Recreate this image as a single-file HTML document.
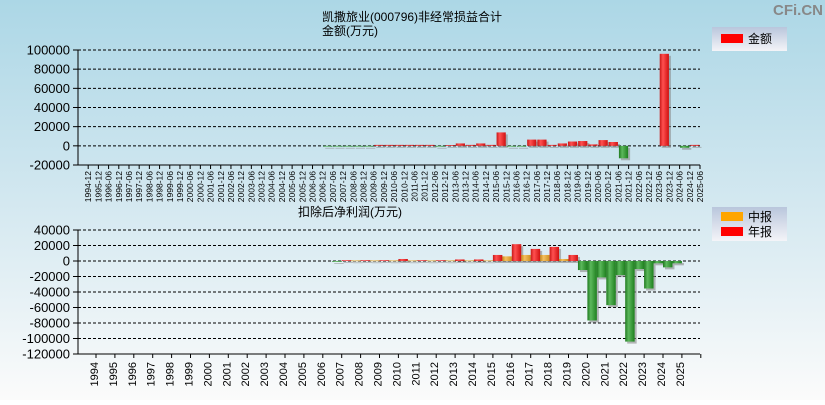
<!DOCTYPE html>
<html><head><meta charset="utf-8"><style>
html,body{margin:0;padding:0}
body{width:825px;height:400px;overflow:hidden;font-family:"Liberation Sans","Noto Sans CJK SC",sans-serif}
</style></head><body>
<svg id="c" width="825" height="400" xmlns="http://www.w3.org/2000/svg" font-family="Liberation Sans, Noto Sans CJK SC, sans-serif">
<defs>
<linearGradient id="bg" x1="0" y1="0" x2="0" y2="1"><stop offset="0" stop-color="#acd7e6"/><stop offset="0.45" stop-color="#cfe6ef"/><stop offset="1" stop-color="#fbfbfb"/></linearGradient>
<linearGradient id="gr" x1="0" x2="1"><stop offset="0" stop-color="#c81818"/><stop offset="0.35" stop-color="#ff5050"/><stop offset="1" stop-color="#d01010"/></linearGradient>
<linearGradient id="gg" x1="0" x2="1"><stop offset="0" stop-color="#1f7a1f"/><stop offset="0.35" stop-color="#5cb85c"/><stop offset="1" stop-color="#1e801e"/></linearGradient>
<linearGradient id="go" x1="0" x2="1"><stop offset="0" stop-color="#c88a1a"/><stop offset="0.35" stop-color="#f5c060"/><stop offset="1" stop-color="#d09020"/></linearGradient>
<linearGradient id="lg" x1="0" y1="0" x2="0" y2="1"><stop offset="0" stop-color="#b9c6dc"/><stop offset="1" stop-color="#f4f4f8"/></linearGradient>
</defs>
<rect width="825" height="400" fill="url(#bg)"/>
<text x="823" y="15" text-anchor="end" font-size="15" font-weight="bold" fill="#888">CFi.CN</text>
<text x="322" y="21" font-size="12">凯撒旅业(000796)非经常损益合计</text>
<text x="322" y="35" font-size="12">金额(万元)</text>
<text x="298" y="216" font-size="12">扣除后净利润(万元)</text>
<g>
<rect x="712" y="27" width="75" height="24" fill="url(#lg)"/>
<rect x="721" y="34" width="22" height="9" fill="#ff0000"/>
<text x="748" y="43" font-size="12">金额</text>
</g>
<g>
<rect x="712" y="207" width="75" height="34" fill="url(#lg)"/>
<rect x="721" y="212" width="22" height="9" fill="#ffa500"/>
<text x="748" y="221" font-size="12">中报</text>
<rect x="721" y="227" width="22" height="9" fill="#ff0000"/>
<text x="748" y="236" font-size="12">年报</text>
</g>
<g id="top"></g><g id="bot"></g>
</svg>
<script>
const topCats=["1994-12","1995-12"];
for(let y=1996;y<=2025;y++){topCats.push(y+"-06");if(y<2025)topCats.push(y+"-12");}
const topValues=[0,0,0,0,0,0,0,0,0,0,0,0,0,0,0,0,0,0,0,0,0,0,0,0,
 -800,-800,-800,-800,-800,1000,1000,1000,1000,1000,1000,-800,800,2500,1000,2500,1000,14000,-800,-800,
 6500,6500,1000,2500,4500,5000,1500,6000,4000,-13000,0,0,0,96000,0,-2000,1000];
const topTicks=[100000,80000,60000,40000,20000,0,-20000];
const botCats=[];for(let y=1994;y<=2025;y++)botCats.push(String(y));
const interimValues=[0,0,0,0,0,0,0,0,0,0,0,0,0,-500,800,800,800,800,800,800,800,800,6000,7800,7800,2600,-11700,-21200,-18200,-10400,-3000,-3000];
const annualValues=[0,0,0,0,0,0,0,0,0,0,0,0,0,1000,1000,1000,2600,1000,1000,2000,2000,7800,21700,15600,18200,7800,-76700,-57000,-104000,-35500,-8200,0];
const botTicks=[40000,20000,0,-20000,-40000,-60000,-80000,-100000,-120000];
const NS="http://www.w3.org/2000/svg";
function mk(p,t,a){const e=document.createElementNS(NS,t);for(const k in a)e.setAttribute(k,a[k]);p.appendChild(e);return e;}
function axis(g,x0,x1,yTop,yBot,vTop,vBot,ticks,name){
 const ys=v=>yTop+(vTop-v)/(vTop-vBot)*(yBot-yTop);
 ticks.forEach(t=>{const y=ys(t);
  const l=mk(g,"line",{x1:x0,x2:x1,y1:y,y2:y,stroke:"#000","stroke-dasharray":"3,2","stroke-width":1});
  
  
  mk(g,"line",{x1:x0-5,x2:x0,y1:y,y2:y,stroke:"#000"});
  const tx=mk(g,"text",{x:x0-8,y:y+4.5,"text-anchor":"end","font-size":13});tx.textContent=t;
  
  
 });
 mk(g,"line",{x1:x0,x2:x0,y1:yTop,y2:yBot,stroke:"#000"});
 mk(g,"line",{x1:x0,x2:x1,y1:yBot,y2:yBot,stroke:"#000"});
 return ys;
}
function bar(g,x,w,y0,y1,v,fill,name){
 const y=Math.min(y0,y1),h=Math.max(Math.abs(y1-y0),0.8);
 mk(g,"rect",{x:x+2,y:y+2,width:w,height:h,fill:"#888","fill-opacity":0.6});
 const r=mk(g,"rect",{x:x,y:y,width:w,height:h,fill:fill});
 
 
}
// top chart
(function(){const g=document.getElementById("top");const x0=78,x1=700;
 const ys=axis(g,x0,x1,50,165,100000,-20000,topTicks,"top");
 const bw=(x1-x0)/topCats.length;
 topCats.forEach((c,i)=>{const bx=x0+bw*(i+1);
  mk(g,"line",{x1:bx,x2:bx,y1:165,y2:169,stroke:"#000"});
  const t=mk(g,"text",{transform:`translate(${bx+3},171) rotate(-90)`,"text-anchor":"end","font-size":8.5});t.textContent=c;
  
  
  const v=topValues[i];if(v)bar(g,x0+bw*i+0.5,bw-1,ys(0),ys(v),v,v>=0?"url(#gr)":"url(#gg)","bar-amount-"+c);
 });})();
// bottom chart
(function(){const g=document.getElementById("bot");const x0=78,x1=700,bw=18.9,first=96;
 const ys=axis(g,x0,x1,230,354,40000,-120000,botTicks,"bottom");
 botCats.forEach((c,i)=>{const bx=first+bw*i;
  mk(g,"line",{x1:bx,x2:bx,y1:354,y2:358,stroke:"#000"});
  const t=mk(g,"text",{transform:`translate(${bx+2},362) rotate(-90)`,"text-anchor":"end","font-size":11});t.textContent=c;
  
  
  const a=interimValues[i],b=annualValues[i];
  if(a)bar(g,bx-bw/2,bw/2,ys(0),ys(a),a,a>=0?"url(#go)":"url(#gg)","bar-interim-"+c);
  if(b)bar(g,bx,bw/2,ys(0),ys(b),b,b>=0?"url(#gr)":"url(#gg)","bar-annual-"+c);
 });
 const bx=first+bw*botCats.length;mk(g,"line",{x1:bx,x2:bx,y1:354,y2:358,stroke:"#000"});
})();
</script>
</body></html>
